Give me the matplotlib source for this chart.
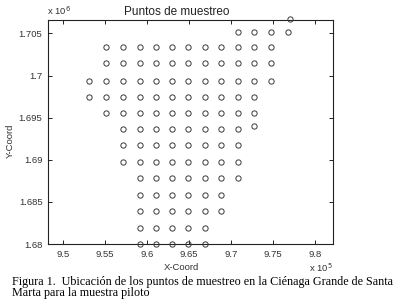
import matplotlib
matplotlib.use('Agg')
import matplotlib.pyplot as plt

plt.rcParams['font.family'] = ['Liberation Sans', 'DejaVu Sans']

# grid column positions (m, easting)
col_x = [953100, 955100, 957100, 959100, 961000, 963000, 964900,
         966900, 968800, 970800, 972700, 974700, 976700]
# row positions (m, northing)
row_y = [1680000, 1681900, 1683900, 1685800, 1687800, 1689700, 1691700,
         1693700, 1695500, 1697450, 1699400, 1701450, 1703350, 1705200]
# first and last column index used in each row
row_span = [(3, 7), (3, 7), (3, 8), (3, 8), (3, 9), (2, 9), (2, 9),
            (2, 9), (1, 10), (0, 10), (0, 11), (1, 11), (1, 11), (9, 12)]
# points off the regular grid
extra_x = [972700, 977000]
extra_y = [1694000, 1706700]

xs, ys = [], []
for yv, (a, b) in zip(row_y, row_span):
    for c in range(a, b + 1):
        xs.append(col_x[c])
        ys.append(yv)
xs += extra_x
ys += extra_y

fig = plt.figure(figsize=(4.03, 3.04), dpi=100)
ax = fig.add_axes([48 / 403, 1 - 244 / 304, 285 / 403, 224 / 304])

ax.plot(xs, ys, 'o', ls='none', ms=3.8, mfc='none', mec='#3a3a3a',
        mew=0.7, clip_on=False, zorder=3)

ax.set_xlim(948200, 982100)
ax.set_ylim(1680000, 1706600)
xt = [950000, 955000, 960000, 965000, 970000, 975000, 980000]
yt = [1680000, 1685000, 1690000, 1695000, 1700000, 1705000]
ax.set_xticks(xt)
ax.set_xticklabels(['9.5', '9.55', '9.6', '9.65', '9.7', '9.75', '9.8'])
ax.set_yticks(yt)
ax.set_yticklabels(['1.68', '1.685', '1.69', '1.695', '1.7', '1.705'])
ax.tick_params(direction='in', length=3, width=0.6, top=True, right=True,
               labelsize=6.8, labelcolor='#333333', pad=4)
for s in ax.spines.values():
    s.set_linewidth(0.8)
    s.set_color('#222222')

fig.text(177 / 403, 1 - 12 / 304, 'Puntos de muestreo', ha='center',
         va='center', fontsize=8.5, color='#222222')
fig.text(181 / 403, 1 - 267 / 304, 'X-Coord', ha='center', va='center',
         fontsize=6.8, color='#333333')
fig.text(10 / 403, 1 - 141 / 304, 'Y-Coord', ha='center', va='center',
         rotation=90, fontsize=6.8, color='#333333')
fig.text(47 / 403, 1 - 11 / 304, r'x 10$^6$', ha='left', va='center',
         fontsize=6.8, color='#333333')
fig.text(333 / 403, 1 - 268 / 304, r'x 10$^5$', ha='right', va='center',
         fontsize=6.8, color='#333333')

fig.text(12 / 403, 1 - 282 / 304,
         'Figura 1.  Ubicación de los puntos de muestreo en la Ciénaga Grande de Santa',
         ha='left', va='center', fontsize=8.7, family=['Liberation Serif'])
fig.text(12 / 403, 1 - 293 / 304, 'Marta para la muestra piloto',
         ha='left', va='center', fontsize=8.7, family=['Liberation Serif'])

fig.savefig('out.png', dpi=100)
